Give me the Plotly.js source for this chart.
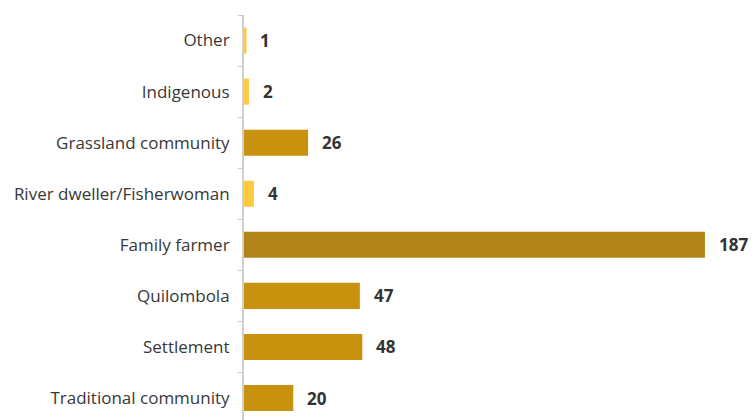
<!DOCTYPE html>
<html>
<head>
<meta charset="utf-8">
<script src="https://cdn.plot.ly/plotly-3.0.1.min.js"></script>
<style>html,body{margin:0;padding:0;background:#fff;}#chart{width:755px;height:420px;}</style>
</head>
<body>
<div id="chart"></div>
<script>
const categories = ["Other", "Indigenous", "Grassland community", "River dweller/Fisherwoman", "Family farmer", "Quilombola", "Settlement", "Traditional community"];
const values = [1, 2, 26, 4, 187, 47, 48, 20];
const barColors = ["#FFC83D", "#FFC83D", "#C8920E", "#FFC83D", "#B08419", "#C8920E", "#C8920E", "#C8920E"];
const valueLabels = values.map(v => String(v));

const trace = {
  type: 'bar',
  orientation: 'h',
  x: values,
  y: categories,
  marker: {color: barColors},
  hoverinfo: 'none'
};

const annotations = categories.map((c, i) => ({
  x: values[i], y: c, xref: 'x', yref: 'y',
  text: valueLabels[i], showarrow: false,
  xanchor: 'left', yanchor: 'middle', xshift: 12,
  font: {family: 'Open Sans, sans-serif', size: 17, color: '#333', weight: 700}
}));

const layout = {
  width: 755, height: 420,
  margin: {l: 244, r: 18, t: 15, b: 0, pad: 0},
  paper_bgcolor: '#fff', plot_bgcolor: '#fff',
  showlegend: false,
  bargap: 0.49,
  xaxis: {range: [0, 200], visible: false, fixedrange: true},
  yaxis: {
    type: 'category',
    categoryorder: 'array', categoryarray: categories,
    range: [7.43, -0.5],
    showline: true, linecolor: '#d0d0d0', linewidth: 2,
    ticks: 'outside', tickson: 'boundaries', ticklen: 4, tickcolor: '#c8c8c8', tickwidth: 1,
    ticklabelstandoff: 9,
    showgrid: false, zeroline: false,
    tickfont: {family: 'Open Sans, sans-serif', size: 17, color: '#383838'}
  },
  annotations: annotations
};

Plotly.newPlot('chart', [trace], layout, {staticPlot: true, displayModeBar: false});
</script>
</body>
</html>
